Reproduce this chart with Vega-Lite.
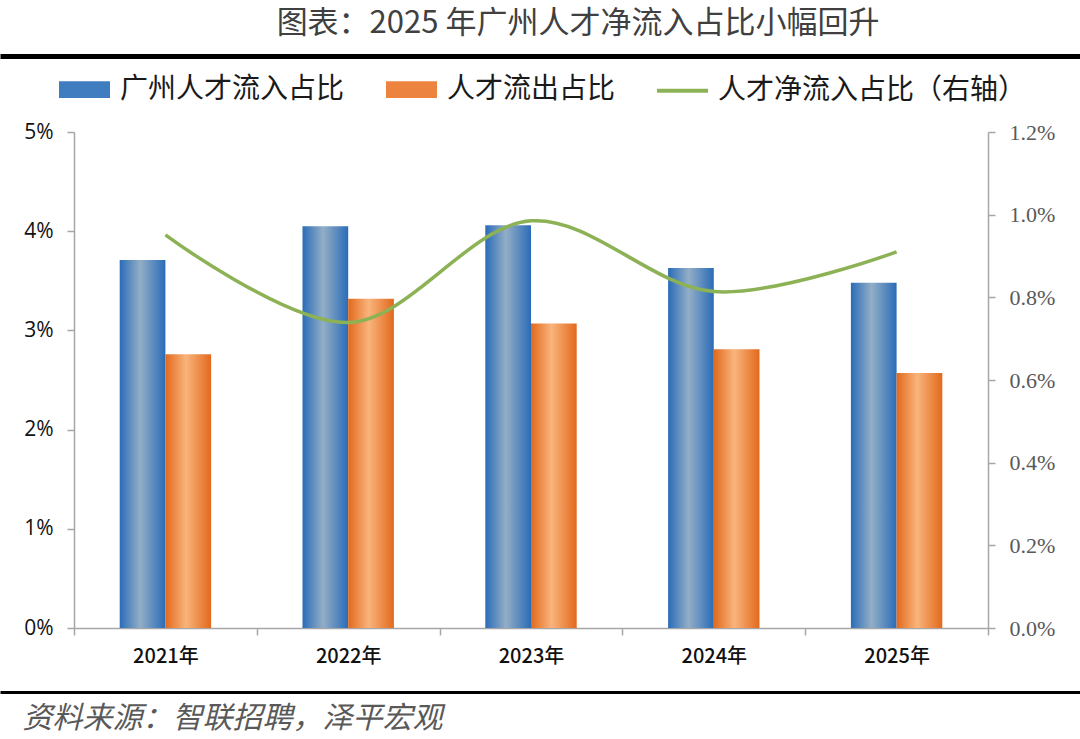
{
  "$schema": "https://vega.github.io/schema/vega-lite/v6.json",
  "width": 914,
  "height": 496,
  "autosize": {"type": "none"},
  "padding": {"left": 74, "top": 132, "right": 92, "bottom": 111},
  "background": "white",
  "config": {
    "view": {"stroke": null},
    "font": "Noto Sans CJK SC"
  },
  "title": {
    "text": "图表：2025 年广州人才净流入占比小幅回升",
    "font": "Noto Sans CJK SC",
    "fontSize": 31,
    "fontWeight": "normal",
    "color": "#404040",
    "anchor": "middle",
    "dx": 47,
    "offset": 16
  },
  "datasets": {
    "bars": [
      {"year": "2021年", "series": "广州人才流入占比", "value": 0.0371},
      {"year": "2021年", "series": "人才流出占比", "value": 0.0276},
      {"year": "2022年", "series": "广州人才流入占比", "value": 0.0405},
      {"year": "2022年", "series": "人才流出占比", "value": 0.0332},
      {"year": "2023年", "series": "广州人才流入占比", "value": 0.0406},
      {"year": "2023年", "series": "人才流出占比", "value": 0.0307},
      {"year": "2024年", "series": "广州人才流入占比", "value": 0.0363},
      {"year": "2024年", "series": "人才流出占比", "value": 0.0281},
      {"year": "2025年", "series": "广州人才流入占比", "value": 0.0348},
      {"year": "2025年", "series": "人才流出占比", "value": 0.0257}
    ],
    "net": [
      {"year": "2021年", "series": "人才净流入占比（右轴）", "value": 0.00951},
      {"year": "2022年", "series": "人才净流入占比（右轴）", "value": 0.00739},
      {"year": "2023年", "series": "人才净流入占比（右轴）", "value": 0.00985},
      {"year": "2024年", "series": "人才净流入占比（右轴）", "value": 0.00814},
      {"year": "2025年", "series": "人才净流入占比（右轴）", "value": 0.0091}
    ]
  },
  "layer": [
    {
      "data": {"name": "bars"},
      "transform": [{"filter": "datum.series === '广州人才流入占比'"}],
      "mark": {
        "type": "bar",
        "strokeWidth": 0,
        "color": {"gradient": "linear", "x1": 0, "y1": 0, "x2": 1, "y2": 0,
          "stops": [{"offset": 0, "color": "#2a6cb8"}, {"offset": 0.45, "color": "#93aec6"}, {"offset": 1, "color": "#2a6cb8"}]}
      },
      "encoding": {
        "x": {
          "field": "year",
          "type": "nominal",
          "scale": {"paddingInner": 0, "paddingOuter": 0},
          "axis": {
            "title": null,
            "labelAngle": 0,
            "tickBand": "extent",
            "domainColor": "#a6a6a6",
            "domainWidth": 1.5,
            "tickColor": "#a6a6a6",
            "tickWidth": 1.5,
            "tickSize": 7,
            "labelPadding": 11,
            "labelFont": "Noto Sans CJK SC",
            "labelFontSize": 20,
            "labelFontWeight": 500,
            "labelColor": "#111111"
          }
        },
        "xOffset": {
          "field": "series",
          "type": "nominal",
          "scale": {"domain": ["广州人才流入占比", "人才流出占比"], "paddingInner": 0, "paddingOuter": 1.13}
        },
        "y": {
          "field": "value",
          "type": "quantitative",
          "scale": {"domain": [0, 0.05]},
          "axis": {
            "title": null,
            "values": [0, 0.01, 0.02, 0.03, 0.04, 0.05],
            "format": ".0%",
            "grid": false,
            "domainColor": "#a6a6a6",
            "domainWidth": 1.5,
            "tickColor": "#a6a6a6",
            "tickWidth": 1.5,
            "tickSize": 7,
            "labelPadding": 14,
            "labelFont": "Open Sans",
            "labelFontSize": 21,
            "labelColor": "#111111"
          }
        }
      }
    },
    {
      "data": {"name": "bars"},
      "transform": [{"filter": "datum.series === '人才流出占比'"}],
      "mark": {
        "type": "bar",
        "strokeWidth": 0,
        "color": {"gradient": "linear", "x1": 0, "y1": 0, "x2": 1, "y2": 0,
          "stops": [{"offset": 0, "color": "#e2691c"}, {"offset": 0.45, "color": "#f9b47c"}, {"offset": 1, "color": "#e2691c"}]}
      },
      "encoding": {
        "x": {"field": "year", "type": "nominal", "scale": {"paddingInner": 0, "paddingOuter": 0}, "axis": null},
        "xOffset": {"field": "series", "type": "nominal"},
        "y": {"field": "value", "type": "quantitative", "scale": {"domain": [0, 0.05]}, "axis": null}
      }
    },
    {
      "data": {"name": "net"},
      "mark": {"type": "line", "interpolate": "catmull-rom", "strokeWidth": 3.5, "color": "#8cb255"},
      "encoding": {
        "x": {"field": "year", "type": "nominal", "scale": {"paddingInner": 0, "paddingOuter": 0}, "axis": null},
        "y": {
          "field": "value",
          "type": "quantitative",
          "scale": {"domain": [0, 0.012]},
          "axis": {
            "orient": "right",
            "title": null,
            "values": [0, 0.002, 0.004, 0.006, 0.008, 0.01, 0.012],
            "format": ".1%",
            "grid": false,
            "domainColor": "#a6a6a6",
            "domainWidth": 1.5,
            "tickColor": "#a6a6a6",
            "tickWidth": 1.5,
            "tickSize": 7,
            "labelPadding": 14,
            "labelFont": "Liberation Serif",
            "labelFontSize": 22,
            "labelColor": "#595959"
          }
        }
      }
    },
    {
      "data": {"name": "net"},
      "transform": [{"filter": "datum.value < 0"}],
      "mark": {"type": "point", "filled": true, "opacity": 1},
      "encoding": {
        "x": {
          "field": "year",
          "type": "nominal",
          "scale": {"domain": ["2021年", "2022年", "2023年", "2024年", "2025年"], "range": [-74, 1006], "paddingInner": 0, "paddingOuter": 0},
          "axis": {
            "orient": "top",
            "offset": 76,
            "title": null,
            "labels": false,
            "ticks": false,
            "domainColor": "#000000",
            "domainWidth": 5
          }
        },
        "fill": {
          "field": "series",
          "type": "nominal",
          "scale": {
            "domain": ["广州人才流入占比", "人才流出占比", "人才净流入占比（右轴）"],
            "range": ["#3f7dc0", "#ec8440", "transparent"]
          },
          "legend": {
            "title": null,
            "orient": "none",
            "direction": "horizontal",
            "legendX": -17,
            "legendY": -70,
            "symbolSize": 2601,
            "symbolOpacity": 1,
            "symbolStrokeWidth": 4,
            "labelOffset": 8,
            "columnPadding": 33,
            "labelFont": "Noto Sans CJK SC",
            "labelFontSize": 28,
            "labelColor": "#1a1a1a",
            "labelLimit": 400
          }
        },
        "stroke": {
          "field": "series",
          "type": "nominal",
          "scale": {
            "domain": ["广州人才流入占比", "人才流出占比", "人才净流入占比（右轴）"],
            "range": ["transparent", "transparent", "#8cb255"]
          },
          "legend": {"title": null}
        },
        "shape": {
          "field": "series",
          "type": "nominal",
          "scale": {
            "domain": ["广州人才流入占比", "人才流出占比", "人才净流入占比（右轴）"],
            "range": ["M-1,-0.33H1V0.33H-1Z", "M-1,-0.33H1V0.33H-1Z", "stroke"]
          },
          "legend": {"title": null}
        }
      }
    },
    {
      "data": {"name": "net"},
      "mark": {"type": "point", "opacity": 0},
      "encoding": {
        "x": {
          "field": "year",
          "type": "nominal",
          "scale": {"range": [-74, 1006], "paddingInner": 0, "paddingOuter": 0},
          "axis": {
            "orient": "bottom",
            "offset": 64,
            "title": "资料来源：智联招聘，泽平宏观",
            "titleFont": "Noto Sans CJK SC",
            "titleFontSize": 30,
            "titleFontStyle": "italic",
            "titleFontWeight": "normal",
            "titleColor": "#595959",
            "titleAnchor": "start",
            "titleAlign": "left",
            "titleBaseline": "middle",
            "titleX": -52,
            "titleY": 26,
            "labels": false,
            "ticks": false,
            "domainColor": "#000000",
            "domainWidth": 3
          }
        }
      }
    }
  ],
  "resolve": {
    "scale": {"y": "independent", "x": "independent"},
    "axis": {"x": "independent"}
  }
}
